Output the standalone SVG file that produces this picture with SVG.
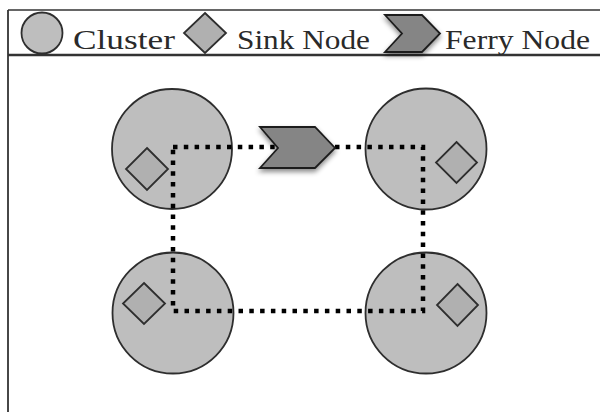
<svg xmlns="http://www.w3.org/2000/svg" width="600" height="412" viewBox="0 0 600 412">
<defs>
<filter id="shadow" x="-30%" y="-30%" width="160%" height="170%">
<feDropShadow dx="0" dy="3" stdDeviation="2.5" flood-color="#000" flood-opacity="0.45"/>
</filter>
</defs>
<style>
.cluster{fill:#bebebe;stroke:#2e2e2e;stroke-width:1.8}
.sink{fill:#b0b0b0;stroke:#2e2e2e;stroke-width:1.8}
.ferry{fill:#858585;stroke:#1e1e1e;stroke-width:1.8;stroke-linejoin:miter;filter:url(#shadow)}
.lbl{font-family:"Liberation Serif","DejaVu Serif",serif;font-size:28px;fill:#2a2a2a}
.route{fill:none;stroke:#000;stroke-width:4.5;stroke-dasharray:4.5 6.3}
.frame{stroke:#333;fill:none}
</style>
<rect width="600" height="412" fill="#fff"/>
<g id="frame">
<line class="frame" x1="8" y1="10" x2="600" y2="10" stroke-width="1.6"/>
<line class="frame" x1="8" y1="10" x2="8" y2="412" stroke-width="1.8"/>
<line class="frame" x1="8" y1="55" x2="600" y2="55" stroke-width="2.4" stroke="#555"/>
</g>
<g id="legend">
<circle class="cluster" cx="42" cy="33" r="20.5"/>
<text class="lbl" x="73" y="48.5" textLength="102" lengthAdjust="spacingAndGlyphs">Cluster</text>
<polygon class="sink" points="205,13 226,33 205,53 184,33"/>
<text class="lbl" x="237" y="48.5" textLength="133" lengthAdjust="spacingAndGlyphs">Sink Node</text>
<polygon class="ferry" points="385,15 422,15 440,33.5 422,52 385,52 402,33.5"/>
<text class="lbl" x="445" y="48.5" textLength="145" lengthAdjust="spacingAndGlyphs">Ferry Node</text>
</g>
<g id="cluster-tl"><circle class="cluster" cx="172" cy="149" r="60"/></g>
<g id="cluster-tr"><circle class="cluster" cx="426" cy="149" r="60.5"/></g>
<g id="cluster-bl"><circle class="cluster" cx="173" cy="313" r="60.5"/></g>
<g id="cluster-br"><circle class="cluster" cx="426" cy="313" r="60.5"/></g>
<g id="sink-tl"><polygon class="sink" points="147,148 168,169 147,190 126,169"/></g>
<g id="sink-tr"><polygon class="sink" points="456.5,142 477,162.5 456.5,183 436,162.5"/></g>
<g id="sink-bl"><polygon class="sink" points="144,283 165,303.5 144,324 123,303.5"/></g>
<g id="sink-br"><polygon class="sink" points="457.5,284 478,305 457.5,326 437,305"/></g>
<g id="connectors">
<path class="route" d="M173,147 H423 V311 H173 Z"/>
</g>
<g id="ferry"><polygon class="ferry" points="260,127 315,127 335,148 315,168 260,168 278,148"/></g>
</svg>
